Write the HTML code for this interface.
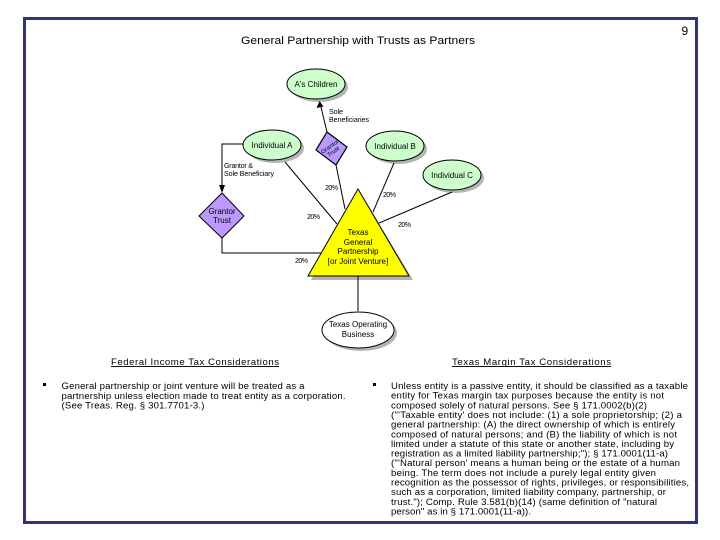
<!DOCTYPE html>
<html>
<head>
<meta charset="utf-8">
<style>
html,body{margin:0;padding:0;background:#fff;width:720px;height:540px;overflow:hidden}
svg{display:block}
text{font-family:"Liberation Sans",sans-serif;fill:#000}
.d{font-size:8px;text-anchor:middle}
.s{font-size:7.1px}
.p{font-size:9.6px}
</style>
</head>
<body>
<svg width="720" height="540" viewBox="0 0 720 540" xmlns="http://www.w3.org/2000/svg">
<rect width="720" height="540" fill="#fff"/>
<rect x="24.5" y="18.5" width="672" height="504" fill="none" stroke="#333377" stroke-width="3"/>

<text x="241" y="44" font-size="11.2" textLength="234" lengthAdjust="spacingAndGlyphs">General Partnership with Trusts as Partners</text>
<text x="681.5" y="35" font-size="12">9</text>

<!-- shadows -->
<g fill="#b4b4b4">
<ellipse cx="319" cy="87" rx="29" ry="15"/>
<ellipse cx="275" cy="148" rx="29" ry="15"/>
<ellipse cx="398" cy="149" rx="29" ry="15"/>
<ellipse cx="455" cy="178" rx="29" ry="15"/>
<polygon points="361,193 413,280 311,280"/>
<ellipse cx="361" cy="333" rx="36" ry="18"/>
</g>

<!-- connectors -->
<g fill="none" stroke="#000" stroke-width="1">
<path d="M327,132 L320.5,105"/>
<path d="M243,144 H222 V186"/>
<path d="M285,162 L337,224"/>
<path d="M336,165 L345,209"/>
<path d="M394,163 L373,212"/>
<path d="M452,192 L379,223"/>
<path d="M222,238 V253 H321"/>
<path d="M358,276 V311"/>
</g>
<polygon points="319.5,101 316.5,108 323.5,106.5" fill="#000"/>
<polygon points="222,193 219,185 225,185" fill="#000"/>

<!-- nodes -->
<g stroke="#000" stroke-width="1">
<ellipse cx="316" cy="84" rx="29" ry="15" fill="#ccffcc"/>
<ellipse cx="272" cy="145" rx="29" ry="15" fill="#ccffcc"/>
<ellipse cx="395" cy="146" rx="29" ry="15" fill="#ccffcc"/>
<ellipse cx="452" cy="175" rx="29" ry="15" fill="#ccffcc"/>
<polygon points="327,132 347,147 336,165 316,150" fill="#bb99ff" stroke-width="1.2"/>
<polygon points="222,193 244,216 222,238 199,216" fill="#bb99ff"/>
<polygon points="358,189 409,276 308,276" fill="#ffff00"/>
<ellipse cx="358" cy="330" rx="36" ry="18" fill="#fff"/>
</g>

<!-- node labels -->
<text class="d" x="316" y="87">A's Children</text>
<text class="d" x="272" y="148">Individual A</text>
<text class="d" x="395" y="149">Individual B</text>
<text class="d" x="452" y="178">Individual C</text>
<g transform="translate(331.5,149) rotate(-35)">
<text class="d" style="font-size:6px" x="0" y="-1">Grantor</text>
<text class="d" style="font-size:6px" x="0" y="5">Trust</text>
</g>
<text class="d" x="222" y="214">Grantor</text>
<text class="d" x="222" y="223">Trust</text>
<text class="d" x="358" y="235">Texas</text>
<text class="d" x="358" y="245">General</text>
<text class="d" x="358" y="254">Partnership</text>
<text class="d" x="358" y="264">[or Joint Venture]</text>
<text class="d" x="358" y="327">Texas Operating</text>
<text class="d" x="358" y="337">Business</text>

<!-- connector labels -->
<text class="s" x="329" y="114" textLength="14">Sole</text>
<text class="s" x="329" y="122" textLength="40">Beneficiaries</text>
<text class="s" x="224" y="168" textLength="29">Grantor &amp;</text>
<text class="s" x="224" y="176" textLength="50">Sole Beneficiary</text>
<text class="s" x="325" y="190" textLength="13">20%</text>
<text class="s" x="383" y="197" textLength="13">20%</text>
<text class="s" x="307" y="219" textLength="13">20%</text>
<text class="s" x="398" y="227" textLength="13">20%</text>
<text class="s" x="295" y="263" textLength="13">20%</text>

<!-- headings -->
<text x="111" y="365" font-size="9.6" textLength="168">Federal Income Tax Considerations</text>
<rect x="111" y="366" width="168" height="1" fill="#111"/>
<text x="452" y="365" font-size="9.6" textLength="159">Texas Margin Tax Considerations</text>
<rect x="452" y="366" width="159" height="1" fill="#111"/>

<!-- bullets -->
<rect x="43" y="383" width="3" height="3" fill="#000"/>
<rect x="373" y="383" width="3" height="3" fill="#000"/>

<!-- left text -->
<text class="p" x="61.5" y="389" textLength="243">General partnership or joint venture will be treated as a</text>
<text class="p" x="61.5" y="399" textLength="284">partnership unless election made to treat entity as a corporation.</text>
<text class="p" x="61.5" y="408.5" textLength="143">(See Treas. Reg. § 301.7701-3.)</text>

<!-- right text -->
<text class="p" x="391" y="389" textLength="297">Unless entity is a passive entity, it should be classified as a taxable</text>
<text class="p" x="391" y="398.7" textLength="273">entity for Texas margin tax purposes because the entity is not</text>
<text class="p" x="391" y="408.3" textLength="256">composed solely of natural persons.  See § 171.0002(b)(2)</text>
<text class="p" x="391" y="418" textLength="291">("'Taxable entity' does not include: (1)  a sole proprietorship; (2)  a</text>
<text class="p" x="391" y="427.6" textLength="284">general partnership: (A)  the direct ownership of which is entirely</text>
<text class="p" x="391" y="437.3" textLength="286">composed of natural persons; and (B)  the liability of which is not</text>
<text class="p" x="391" y="446.9" textLength="283">limited under a statute of this state or another state, including by</text>
<text class="p" x="391" y="456.6" textLength="277">registration as a limited liability partnership;"); § 171.0001(11-a)</text>
<text class="p" x="391" y="466.2" textLength="289">("'Natural person' means a human being or the estate of a human</text>
<text class="p" x="391" y="475.9" textLength="265">being.  The term does not include a purely legal entity given</text>
<text class="p" x="391" y="485.5" textLength="298">recognition as the possessor of rights, privileges, or responsibilities,</text>
<text class="p" x="391" y="495.2" textLength="275">such as a corporation, limited liability company, partnership, or</text>
<text class="p" x="391" y="504.8" textLength="266">trust."); Comp. Rule 3.581(b)(14) (same definition of "natural</text>
<text class="p" x="391" y="514.5" textLength="140">person" as in § 171.0001(11-a)).</text>
</svg>
</body>
</html>
